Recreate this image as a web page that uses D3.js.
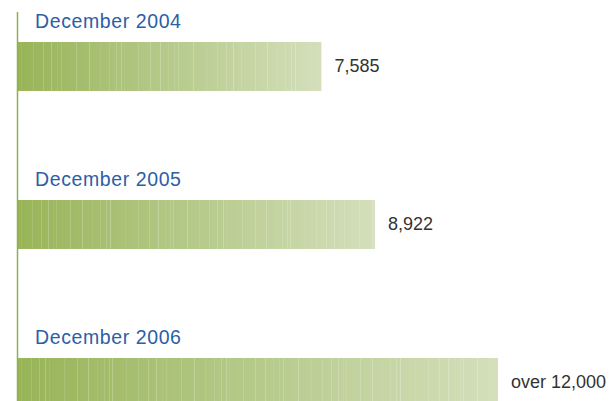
<!DOCTYPE html>
<html>
<head>
<meta charset="utf-8">
<script src="https://cdn.jsdelivr.net/npm/d3@7"></script>
<style>
  body { margin: 0; background: #fff; }
  svg { display: block; }
</style>
</head>
<body>
<svg id="chart" width="616" height="401"></svg>
<script>
// data
const categories = ["December 2004", "December 2005", "December 2006"];
const values = [7585, 8922, 12000];
const valueLabels = ["7,585", "8,922", "over 12,000"];

class StreakBar {
    constructor (element) {
        this.svg = d3.select(element);
        this.width = 616;
        this.height = 401;
        this.left = 18;
        this.initScales();
        this.initDefs();
        this.draw();
    }

    initScales () {
        this.x = d3.scaleLinear().domain([0, 12000]).range([this.left, 498]);
        // step 158px, bar height ~49px
        this.y = d3.scaleBand()
            .domain(categories)
            .range([42, 42 + 158 * (3 - 0.69)])
            .paddingInner(0.69)
            .paddingOuter(0);
    }

    initDefs () {
        let defs = this.svg.append("defs");
        let grad = defs.append("linearGradient")
            .attr("id", "barGrad")
            .attr("x1", "0%").attr("x2", "100%")
            .attr("y1", "0%").attr("y2", "0%");
        grad.append("stop").attr("offset", "0%").attr("stop-color", "#98b457");
        grad.append("stop").attr("offset", "45%").attr("stop-color", "#b3c886");
        grad.append("stop").attr("offset", "100%").attr("stop-color", "#d4dfbb");
    }

    draw () {
        let rows = this.svg.append("g")
            .selectAll("g")
            .data(categories)
            .enter()
            .append("g");

        rows.append("rect")
            .attr("x", this.x(0))
            .attr("y", (d) => this.y(d))
            .attr("width", (d, i) => this.x(values[i]) - this.x(0))
            .attr("height", this.y.bandwidth())
            .attr("fill", "url(#barGrad)");

        // light vertical streaks inside each bar (decoration)
        rows.each((d, i, nodes) => {
            let g = d3.select(nodes[i]);
            let w = this.x(values[i]) - this.x(0);
            let pos = 3, k = i * 7;
            let streaks = [];
            while (pos < w - 2) {
                streaks.push(pos);
                k++;
                pos += 3 + ((k * 37 + 11) % 13);
            }
            g.selectAll("line.streak")
                .data(streaks)
                .enter()
                .append("line")
                .attr("class", "streak")
                .attr("x1", (p) => this.x(0) + p + 0.5)
                .attr("x2", (p) => this.x(0) + p + 0.5)
                .attr("y1", this.y(d))
                .attr("y2", this.y(d) + this.y.bandwidth())
                .attr("stroke", "#ffffff")
                .attr("stroke-opacity", (p, j) => 0.08 + ((j * 5) % 4) * 0.05)
                .attr("stroke-width", 1);
        });

        rows.append("text")
            .attr("x", 35)
            .attr("y", (d) => this.y(d) - 14)
            .attr("font-family", "'Liberation Sans', Arial, sans-serif")
            .attr("font-size", 19.5)
            .attr("letter-spacing", 0.6)
            .attr("fill", "#2c5ea6")
            .text((d) => d);

        rows.append("text")
            .attr("x", (d, i) => this.x(values[i]) + 13)
            .attr("y", (d) => this.y(d) + this.y.bandwidth() / 2 + 6)
            .attr("font-family", "'Liberation Sans', Arial, sans-serif")
            .attr("font-size", 18)
            .attr("fill", "#333333")
            .text((d, i) => valueLabels[i]);

        // left axis line
        this.svg.append("line")
            .attr("x1", 17.5).attr("x2", 17.5)
            .attr("y1", 12).attr("y2", this.height)
            .attr("stroke", "#8fb04c")
            .attr("stroke-width", 1.5);
    }
}

new StreakBar("#chart");
</script>
</body>
</html>
